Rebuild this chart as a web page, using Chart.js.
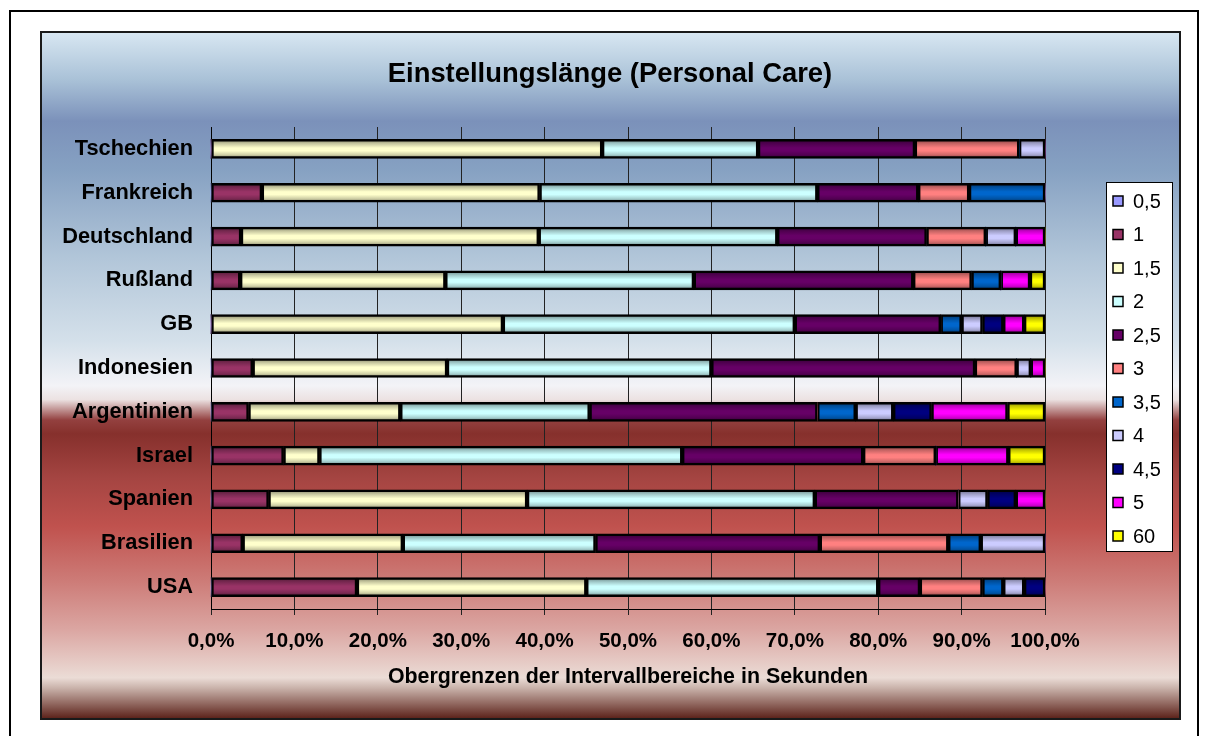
<!DOCTYPE html>
<html>
<head>
<meta charset="utf-8">
<script src="https://cdn.jsdelivr.net/npm/chart.js@4.4.1/dist/chart.umd.min.js"></script>
<style>
html,body{margin:0;padding:0;background:#fff;}
#wrap{width:1208px;height:736px;position:relative;}
</style>
</head>
<body>
<div id="wrap"><canvas id="c" width="1208" height="736"></canvas></div>
<script>
// ---- data ----
const categories = ['Tschechien','Frankreich','Deutschland','Rußland','GB','Indonesien','Argentinien','Israel','Spanien','Brasilien','USA'];
const seriesNames = ['0,5','1','1,5','2','2,5','3','3,5','4','4,5','5','60'];
const s05 = [0,0,0,0,0,0,0,0,0,0,0];
const s1  = [0,6.1,3.6,3.5,0,5.0,4.5,8.7,6.9,3.8,17.5];
const s15 = [46.9,33.3,35.7,24.6,35.0,23.3,18.2,4.3,31.0,19.2,27.5];
const s2  = [18.7,33.3,28.6,29.8,35.0,31.7,22.7,43.5,34.5,23.1,35.0];
const s25 = [18.8,12.1,17.9,26.3,17.5,31.6,27.3,21.7,17.2,26.9,5.0];
const s3  = [12.5,6.1,7.1,7.0,0,5.0,0,8.7,0,15.4,7.5];
const s35 = [0,9.1,0,3.5,2.5,0,4.6,0,0,3.9,2.5];
const s4  = [3.1,0,3.6,0,2.5,1.7,4.5,0,3.5,7.7,2.5];
const s45 = [0,0,0,0,2.5,0,4.6,0,3.4,0,2.5];
const s5  = [0,0,3.5,3.5,2.5,1.7,9.1,8.7,3.5,0,0];
const s60 = [0,0,0,1.8,2.5,0,4.5,4.4,0,0,0];
const seriesValues = [s05,s1,s15,s2,s25,s3,s35,s4,s45,s5,s60];
const seriesColors = ['#9999FF','#993366','#FFFFCC','#CCFFFF','#660066','#FF8080','#0066CC','#CCCCFF','#000080','#FF00FF','#FFFF00'];
const xTickLabels = ['0,0%','10,0%','20,0%','30,0%','40,0%','50,0%','60,0%','70,0%','80,0%','90,0%','100,0%'];
const chartTitle = 'Einstellungslänge (Personal Care)';
const xAxisTitle = 'Obergrenzen der Intervallbereiche in Sekunden';

// ---- helpers ----
const FONT = '"Liberation Sans", Arial, sans-serif';
function hexToRgb(h){h=h.replace('#','');return [parseInt(h.substr(0,2),16),parseInt(h.substr(2,2),16),parseInt(h.substr(4,2),16)];}
function shadeCol(h,f){const c=hexToRgb(h);return 'rgb('+c.map(v=>Math.round(v*f)).join(',')+')';}
const BAR_T = 19;
function barFill(hex){
  return function(ctx){
    const ch = ctx.chart, ys = ch.scales && ch.scales.y;
    if(!ys || !ch.chartArea) return hex;
    const yc = ys.getPixelForValue(ctx.dataIndex);
    const g = ch.ctx.createLinearGradient(0,yc-BAR_T/2,0,yc+BAR_T/2);
    g.addColorStop(0, shadeCol(hex,0.5));
    g.addColorStop(0.22, shadeCol(hex,0.78));
    g.addColorStop(0.45, hex);
    g.addColorStop(0.6, hex);
    g.addColorStop(0.8, shadeCol(hex,0.82));
    g.addColorStop(1, shadeCol(hex,0.5));
    return g;
  };
}

const datasets = seriesNames.map((n,i)=>({
  label:n,
  data:seriesValues[i],
  backgroundColor:barFill(seriesColors[i]),
  legendColor:seriesColors[i],
  borderColor:'#000',
  borderWidth:(c)=> c.raw ? 2.5 : 0,
  borderSkipped:false,
  barThickness:BAR_T,
  clip:false
}));

// ---- background / frame plugin ----
const frame = {
  id:'frame',
  beforeDraw(chart){
    const c = chart.ctx;
    c.save();
    c.fillStyle='#fff'; c.fillRect(0,0,chart.width,chart.height);
    c.strokeStyle='#000'; c.lineWidth=2;
    c.strokeRect(10,11,1188,760);
    const x0=41,y0=32,x1=1180,y1=719;
    const g = c.createLinearGradient(0,y0,0,y1);
    const stops = [
      [0.00,'#d8e7f2'],[0.07,'#a9c1d7'],[0.13,'#7b91ba'],[0.20,'#86a1c2'],
      [0.33,'#b2c6d9'],[0.45,'#d4e0ea'],[0.515,'#f3f3f7'],[0.535,'#ece2e2'],
      [0.565,'#93403f'],[0.585,'#86302c'],[0.65,'#a54542'],[0.72,'#c0524e'],
      [0.80,'#cd7c78'],[0.87,'#dba6a2'],[0.94,'#ebdcd6'],[0.955,'#c9b2aa'],[1.0,'#5a1f17']
    ];
    stops.forEach(s=>g.addColorStop(s[0],s[1]));
    c.fillStyle=g; c.fillRect(x0,y0,x1-x0,y1-y0);
    c.strokeStyle='#1a1a1a'; c.lineWidth=2;
    c.strokeRect(x0,y0,x1-x0,y1-y0);
    c.restore();
  },
  afterDraw(chart){
    const c = chart.ctx;
    c.save();
    // title
    c.fillStyle='#000';
    c.font='bold 27.4px '+FONT;
    c.textAlign='center'; c.textBaseline='middle';
    c.fillText(chartTitle, 610, 74);
    // legend
    const lx=1106.5, ly=182.5, lw=66, lh=369;
    c.fillStyle='#fff'; c.fillRect(lx,ly,lw,lh);
    c.strokeStyle='#000'; c.lineWidth=1; c.strokeRect(lx,ly,lw,lh);
    c.font='20px '+FONT; c.textAlign='left'; c.textBaseline='middle';
    chart.data.datasets.forEach((ds,i)=>{
      const yc = 201 + i*33.5;
      c.fillStyle=ds.legendColor;
      c.fillRect(1113,yc-5,10,10);
      c.strokeStyle='#000'; c.lineWidth=1.5;
      c.strokeRect(1113,yc-5,10,10);
      c.fillStyle='#000';
      c.fillText(ds.label, 1133, yc+1);
    });
    c.restore();
  }
};

new Chart(document.getElementById('c'),{
  type:'bar',
  data:{labels:categories,datasets:datasets},
  plugins:[frame],
  options:{
    responsive:false,
    animation:false,
    indexAxis:'y',
    layout:{padding:{left:0,top:127,right:163,bottom:0}},
    plugins:{legend:{display:false},title:{display:false},tooltip:{enabled:false}},
    scales:{
      x:{
        stacked:true,min:0,max:100,
        afterFit(s){s.height=127;},
        afterBuildTicks(s){s.ticks=xTickLabels.map((t,i)=>({value:i*10}));},
        ticks:{
          callback:(v,i)=>xTickLabels[i],
          color:'#000',font:{family:FONT,size:20.5,weight:'bold'},padding:14,maxRotation:0,autoSkip:false
        },
        grid:{color:'#222',lineWidth:1,tickLength:6,drawTicks:true},
        border:{display:true,color:'#000',width:1},
        title:{display:true,text:xAxisTitle,color:'#000',font:{family:FONT,size:21.4,weight:'bold'},padding:{top:0,bottom:46}}
      },
      y:{
        stacked:true,
        afterFit(s){s.width=211;},
        ticks:{color:'#000',font:{family:FONT,size:21.8,weight:'bold'},padding:18},
        grid:{display:false,drawTicks:false},
        border:{display:true,color:'#000',width:1}
      }
    }
  }
});
</script>
</body>
</html>
